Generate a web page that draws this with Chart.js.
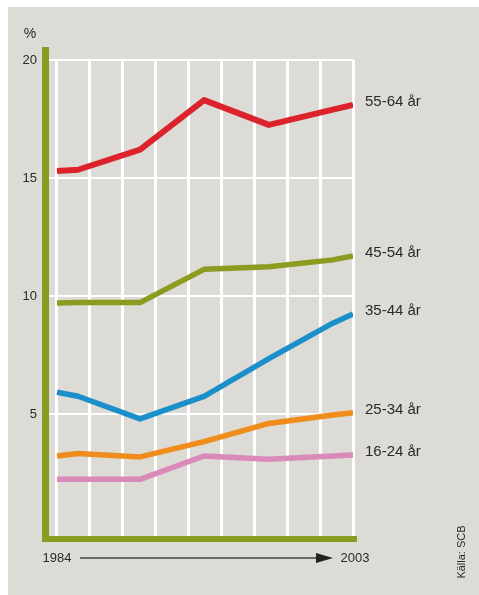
<!DOCTYPE html>
<html>
<head>
<meta charset="utf-8">
<script src="https://cdn.jsdelivr.net/npm/chart.js@4/dist/chart.umd.min.js"></script>
<style>
  html, body { margin: 0; padding: 0; background: #ffffff; }
  #wrap { position: absolute; left: 0; top: 0; width: 479px; height: 595px; }
</style>
</head>
<body>
<div id="wrap"><canvas id="c" width="479" height="595"></canvas></div>
<script>
// ---- data ----
const years = [1984, 1985.35, 1989.33, 1993.44, 1997.6, 2001.7, 2003];
const age5564 = [15.3, 15.35, 16.2, 18.3, 17.25, 17.9, 18.1];
const age4554 = [9.7, 9.72, 9.72, 11.13, 11.24, 11.53, 11.7];
const age3544 = [5.92, 5.75, 4.79, 5.75, 7.35, 8.85, 9.24];
const age2534 = [3.22, 3.33, 3.18, 3.83, 4.6, 4.96, 5.05];
const age1624 = [2.23, 2.23, 2.23, 3.22, 3.08, 3.22, 3.26];
const seriesLabels = ['55-64 år', '45-54 år', '35-44 år', '25-34 år', '16-24 år'];
const yTickValues = [5, 10, 15, 20];
const firstYear = 1984;
const lastYear = 2003;
const unitLabel = '%';
const sourceLabel = 'Källa: SCB';

// ---- styling ----
const colors = ['#dc232b', '#8b9c20', '#1b8fc9', '#ef8c1b', '#da8ab9'];
const widths = [6, 5.5, 5.5, 5.5, 5.5];
const axisGreen = '#8a9b22';
const bg = '#dcdbd6';
const textColor = '#2a2a2a';
const FONT = '"Liberation Sans", Arial, Helvetica, sans-serif';

const seriesValues = [age5564, age4554, age3544, age2534, age1624];
const gridYears = Array.from({ length: 10 }, (_, i) => firstYear + i * (lastYear - firstYear) / 9);

const datasets = seriesValues.map((vals, i) => ({
  label: seriesLabels[i],
  data: years.map((y, j) => ({ x: y, y: vals[j] })),
  borderColor: colors[i],
  backgroundColor: colors[i],
  borderWidth: widths[i],
  pointRadius: 0,
  tension: 0,
  fill: false,
  borderCapStyle: 'butt',
  borderJoinStyle: 'round'
}));

const decor = {
  id: 'decor',
  beforeDraw(chart) {
    const ctx = chart.ctx;
    ctx.save();
    ctx.fillStyle = '#ffffff';
    ctx.fillRect(0, 0, chart.width, chart.height);
    ctx.fillStyle = bg;
    ctx.fillRect(8, 7, chart.width - 8, chart.height - 7);
    ctx.restore();
  },
  afterDraw(chart) {
    const ctx = chart.ctx;
    const a = chart.chartArea;
    const xs = chart.scales.x, ys = chart.scales.y;
    ctx.save();
    // green axis bars
    ctx.fillStyle = axisGreen;
    ctx.fillRect(a.left - 7, a.top - 13, 7, a.bottom + 6 - (a.top - 13));
    ctx.fillRect(a.left - 7, a.bottom, a.right + 4 - (a.left - 7), 6);

    // series labels
    ctx.fillStyle = textColor;
    ctx.font = '15px ' + FONT;
    ctx.textAlign = 'left';
    ctx.textBaseline = 'middle';
    seriesValues.forEach((vals, i) => {
      const y = ys.getPixelForValue(vals[vals.length - 1]) - 3;
      ctx.fillText(seriesLabels[i], a.right + 12, y);
    });

    // unit label
    ctx.font = '14px ' + FONT;
    ctx.textAlign = 'center';
    ctx.fillText(unitLabel, 30, a.top - 26);

    // year labels and arrow
    const x0 = xs.getPixelForValue(firstYear);
    const x1 = xs.getPixelForValue(lastYear);
    const yy = a.bottom + 22;
    ctx.font = '13px ' + FONT;
    ctx.textAlign = 'center';
    ctx.fillText(String(firstYear), x0, yy);
    ctx.fillText(String(lastYear), x1 + 2, yy);
    ctx.strokeStyle = '#444444';
    ctx.lineWidth = 1.3;
    ctx.beginPath();
    ctx.moveTo(x0 + 23, yy);
    ctx.lineTo(x1 - 34, yy);
    ctx.stroke();
    ctx.fillStyle = '#222222';
    ctx.beginPath();
    ctx.moveTo(x1 - 20, yy);
    ctx.lineTo(x1 - 37, yy - 5);
    ctx.lineTo(x1 - 37, yy + 5);
    ctx.closePath();
    ctx.fill();

    // source
    ctx.save();
    ctx.translate(462, 552);
    ctx.rotate(-Math.PI / 2);
    ctx.font = '11px ' + FONT;
    ctx.fillStyle = textColor;
    ctx.textAlign = 'center';
    ctx.textBaseline = 'middle';
    ctx.fillText(sourceLabel, 0, 0);
    ctx.restore();

    ctx.restore();
  }
};

new Chart(document.getElementById('c'), {
  type: 'line',
  data: { datasets },
  plugins: [decor],
  options: {
    responsive: false,
    animation: false,
    events: [],
    layout: { padding: { left: 0, top: 60, right: 126, bottom: 59 } },
    plugins: { legend: { display: false }, tooltip: { enabled: false }, title: { display: false } },
    scales: {
      x: {
        type: 'linear',
        min: firstYear - 8 / 15.58,
        max: lastYear,
        afterBuildTicks(scale) { scale.ticks = gridYears.map(v => ({ value: v })); },
        afterFit(scale) { scale.height = 0; },
        ticks: { display: false },
        grid: { color: '#ffffff', lineWidth: 3, drawTicks: false },
        border: { display: false }
      },
      y: {
        type: 'linear',
        min: -0.17,
        max: 20,
        afterBuildTicks(scale) { scale.ticks = yTickValues.map(v => ({ value: v })); },
        afterFit(scale) { scale.width = 49; },
        ticks: {
          color: textColor,
          font: { size: 13, family: FONT },
          padding: 12
        },
        grid: { color: '#ffffff', lineWidth: 2, drawTicks: false },
        border: { display: false }
      }
    }
  }
});
</script>
</body>
</html>
